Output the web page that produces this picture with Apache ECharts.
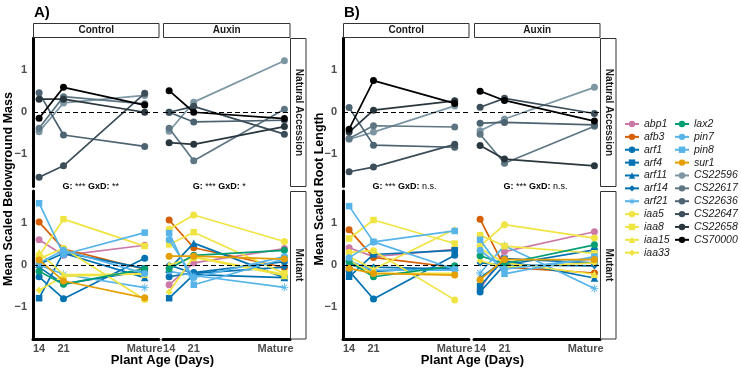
<!DOCTYPE html>
<html><head><meta charset="utf-8">
<script src="https://cdn.jsdelivr.net/npm/echarts@6/dist/echarts.min.js"></script>
<style>html,body{margin:0;padding:0;background:#fff}#c{width:741px;height:371px}</style>
</head><body><div id="c"></div><script>
// ---------- data ----------
const treatments = ['Control', 'Auxin'];
const matureDay = { Control: 44.3, Auxin: 46.8 };   // x position (days) of the mature measurement
const xTickValues = [14, 21, 44.3];
const xTickLabels = ['14', '21', 'Mature'];
const yTickValues = [-1, 0, 1];

const mutants = ['abp1','afb3','arf1','arf4','arf11','arf14','arf21','iaa5','iaa8','iaa15','iaa33','lax2','pin7','pin8','sur1'];
const accessions = ['CS22596','CS22617','CS22636','CS22647','CS22658','CS70000'];

// values at 14 d, 21 d, Mature
const massControlAccession = {
  CS22596:[-0.46,0.22,0.40], CS22617:[-0.38,0.37,0.20], CS22636:[0.46,-0.54,-0.81],
  CS22647:[-1.54,-1.27,0.45], CS22658:[0.31,0.31,0.00], CS70000:[-0.14,0.59,0.17]
};
const massAuxinAccession = {
  CS22596:[-0.45,0.24,1.22], CS22617:[-0.38,-1.15,0.07], CS22636:[0.00,-0.23,-0.19],
  CS22647:[0.00,0.14,-0.52], CS22658:[-0.72,-0.76,-0.34], CS70000:[0.51,0.00,-0.15]
};
const massControlMutant = {
  abp1:[0.60,0.23,0.47], afb3:[1.02,0.38,-0.10], arf1:[-0.28,-0.80,0.16], arf4:[-0.79,0.30,-0.08],
  arf11:[0.02,0.28,-0.30], arf14:[-0.05,-0.45,-0.14], arf21:[0.00,-0.22,-0.54], iaa5:[0.15,0.40,-0.82],
  iaa8:[0.22,1.09,0.45], iaa15:[0.30,-0.23,-0.22], iaa33:[-0.60,-0.27,-0.20], lax2:[-0.15,-0.46,-0.09],
  pin7:[0.05,0.35,-0.20], pin8:[1.47,0.25,0.77], sur1:[0.12,-0.38,-0.78]
};
const massAuxinMutant = {
  abp1:[-0.47,0.05,0.39], afb3:[1.07,0.41,-0.06], arf1:[-0.28,-0.18,0.08], arf4:[-0.79,-0.23,-0.30],
  arf11:[-0.10,0.52,-0.30], arf14:[0.00,-0.20,-0.05], arf21:[-0.15,-0.25,-0.53], iaa5:[0.85,1.19,0.56],
  iaa8:[0.49,0.78,-0.20], iaa15:[0.00,0.18,-0.25], iaa33:[-0.64,0.20,-0.22], lax2:[-0.09,0.23,0.35],
  pin7:[0.60,-0.30,0.20], pin8:[0.76,-0.47,0.15], sur1:[0.21,0.21,0.14]
};
const rootControlAccession = {
  CS22596:[-0.64,-0.47,0.15], CS22617:[-0.62,-0.32,-0.35], CS22636:[0.11,-0.78,-0.83],
  CS22647:[-1.41,-1.30,-0.76], CS22658:[-0.47,0.05,0.27], CS70000:[-0.40,0.75,0.21]
};
const rootAuxinAccession = {
  CS22596:[-0.44,-0.16,0.59], CS22617:[-0.52,-1.21,-0.33], CS22636:[-0.26,-0.24,-0.30],
  CS22647:[0.12,0.33,-0.03], CS22658:[-0.79,-1.11,-1.27], CS70000:[0.50,0.28,-0.21]
};
const rootControlMutant = {
  abp1:[0.41,0.20,0.37], afb3:[0.84,0.18,-0.06], arf1:[-0.14,-0.81,0.23], arf4:[-0.28,0.25,0.35],
  arf11:[0.02,-0.15,-0.05], arf14:[0.00,-0.05,-0.10], arf21:[0.10,-0.12,-0.12], iaa5:[0.30,0.34,-0.83],
  iaa8:[0.63,1.07,0.51], iaa15:[0.20,-0.10,0.85], iaa33:[0.10,-0.20,-0.20], lax2:[0.08,-0.28,-0.02],
  pin7:[0.17,0.55,-0.10], pin8:[1.40,0.55,0.81], sur1:[-0.08,-0.20,-0.24]
};
const rootAuxinMutant = {
  abp1:[-0.58,0.32,0.79], afb3:[1.09,-0.05,-0.19], arf1:[-0.64,0.00,0.36], arf4:[-0.50,0.15,0.05],
  arf11:[-0.30,0.10,-0.31], arf14:[0.05,0.00,-0.02], arf21:[-0.19,0.46,-0.56], iaa5:[0.45,0.96,0.64],
  iaa8:[0.71,0.45,0.28], iaa15:[0.40,0.05,-0.22], iaa33:[0.10,-0.05,0.05], lax2:[0.22,0.03,0.48],
  pin7:[0.35,-0.10,0.15], pin8:[0.60,-0.21,0.20], sur1:[-0.35,0.13,0.13]
};
const statLabels = { massControl:'**', massAuxin:'*', rootControl:'n.s.', rootAuxin:'n.s.' };

// ---------- styles ----------
const FONT = '"Liberation Sans", Arial, sans-serif';
const ASTER = 'path://M9 0h2v20h-2z M0 9h20v2h-20z M2.2 3.6L3.6 2.2L17.8 16.4L16.4 17.8z M16.4 2.2L17.8 3.6L3.6 17.8L2.2 16.4z';
const colors = {
  abp1:'#CC79A7', afb3:'#D55E00', arf1:'#0072B2', arf4:'#0072B2', arf11:'#0072B2', arf14:'#0072B2',
  arf21:'#56B4E9', iaa5:'#F0E442', iaa8:'#F0E442', iaa15:'#F0E442', iaa33:'#F0E442', lax2:'#009E73',
  pin7:'#56B4E9', pin8:'#56B4E9', sur1:'#E69F00',
  CS22596:'#7D96A4', CS22617:'#5E7684', CS22636:'#4C6371', CS22647:'#3C4E59', CS22658:'#29363E', CS70000:'#000000'
};
const shapes = {
  abp1:'circle', afb3:'circle', arf1:'circle', arf4:'rect', arf11:'triangle', arf14:'diamond', arf21:ASTER,
  iaa5:'circle', iaa8:'rect', iaa15:'triangle', iaa33:'diamond', lax2:'circle', pin7:'circle', pin8:'rect', sur1:'circle'
};
accessions.forEach(a => shapes[a] = 'circle');
const sizes = { circle:7, rect:6.5, triangle:7.5, diamond:7 };

const X0 = 12.25, X1 = 48.4, Y0 = -1.76, Y1 = 1.76;
const panels = [
  { key:'massControl', trt:'Control', row:0, left:33,  width:126, data:massControlAccession, names:accessions },
  { key:'massAuxin',   trt:'Auxin',   row:0, left:163, width:127, data:massAuxinAccession,   names:accessions },
  { key:'massControl', trt:'Control', row:1, left:33,  width:126, data:massControlMutant,    names:mutants },
  { key:'massAuxin',   trt:'Auxin',   row:1, left:163, width:127, data:massAuxinMutant,      names:mutants },
  { key:'rootControl', trt:'Control', row:0, left:343, width:126, data:rootControlAccession, names:accessions },
  { key:'rootAuxin',   trt:'Auxin',   row:0, left:474, width:126, data:rootAuxinAccession,   names:accessions },
  { key:'rootControl', trt:'Control', row:1, left:343, width:126, data:rootControlMutant,    names:mutants },
  { key:'rootAuxin',   trt:'Auxin',   row:1, left:474, width:126, data:rootAuxinMutant,      names:mutants }
];
const rowTop = [38, 191], rowH = [148.5, 148];

const grid = [], xAxis = [], yAxis = [], series = [];
panels.forEach((p, gi) => {
  grid.push({ left:p.left, top:rowTop[p.row], width:p.width, height:rowH[p.row] });
  const bottom = p.row === 1, isLeft = p.trt === 'Control';
  xAxis.push({
    type:'value', gridIndex:gi, min:X0, max:X1,
    axisLine:{ show:bottom, onZero:false, lineStyle:{ color:'#000', width:3 } },
    axisTick:{ show:false }, splitLine:{ show:false },
    axisLabel:{ show:bottom, customValues:xTickValues, margin:4,
      formatter:v => xTickLabels[xTickValues.indexOf(v)] ?? '',
      color:'#4d4d4d', fontWeight:'bold', fontSize:11, fontFamily:FONT }
  });
  yAxis.push({
    type:'value', gridIndex:gi, min:Y0, max:Y1,
    axisLine:{ show:isLeft, onZero:false, lineStyle:{ color:'#000', width:3 } },
    axisTick:{ show:false }, splitLine:{ show:false },
    axisLabel:{ show:isLeft, customValues:yTickValues, margin:6,
      formatter:v => String(v).replace('-', '\u2212'),
      color:'#4d4d4d', fontWeight:'bold', fontSize:11, fontFamily:FONT }
  });
  series.push({ type:'line', xAxisIndex:gi, yAxisIndex:gi, data:[], silent:true, z:1,
    markLine:{ silent:true, symbol:'none', label:{show:false}, animation:false,
      lineStyle:{ color:'#000', type:[5,3], width:1.1 }, data:[{ yAxis:0 }] } });
  const xs = [14, 21, matureDay[p.trt]];
  p.names.forEach((n, k) => {
    const sh = shapes[n];
    series.push({
      type:'line', name:n, xAxisIndex:gi, yAxisIndex:gi, z:2 + k * 0.01,
      data:p.data[n].map((v, i) => [xs[i], v]),
      symbol:sh, symbolSize: sh === ASTER ? 8 : sizes[sh], showSymbol:true,
      color:colors[n], itemStyle:{ color:colors[n], opacity:1 },
      lineStyle:{ width:1.7, color:colors[n] },
      emphasis:{ disabled:true }, animation:false
    });
  });
});

const legendBase = { orient:'vertical', itemWidth:14, itemHeight:8, itemGap:1.87, selectedMode:false, padding:0,
  textStyle:{ fontStyle:'italic', fontSize:10.5, lineHeight:11, color:'#1a1a1a', fontFamily:FONT } };
const legendCol1 = ['abp1','afb3','arf1','arf4','arf11','arf14','arf21','iaa5','iaa8','iaa15','iaa33'];
const legendCol2 = ['lax2','pin7','pin8','sur1'].concat(accessions);

// ---------- decorations ----------
const graphic = [];
function txt(x, y, text, font, opts = {}) {
  graphic.push(Object.assign({ type:'text', x, y, silent:true, z:100,
    style:{ text, font, fill:opts.fill || '#000', align:opts.align || 'center', verticalAlign:'middle',
      textAlign:opts.align || 'center', textVerticalAlign:'middle' } }, opts.extra || {}));
}
function rect(x, y, w, h) {
  graphic.push({ type:'rect', silent:true, z:90, shape:{ x, y, width:w, height:h },
    style:{ fill:'#fff', stroke:'#333', lineWidth:1 } });
}
[[33, 'A)', 'Mean Scaled Belowground Mass', 9, 290], [343, 'B)', 'Mean Scaled Root Length', 320, 600]].forEach(([L, tag, ytitle, yx, R]) => {
  txt(L + 1, 13, tag, 'bold 15px ' + FONT, { align:'left' });
  txt(yx, 189, ytitle, 'bold 12.5px ' + FONT, { extra:{ rotation: Math.PI / 2 } });
  const cw = L === 33 ? [[33.5,125.5],[163.5,126.5]] : [[343.5,125.5],[474.5,125.5]];
  cw.forEach(([x, w], i) => { rect(x, 23.5, w, 14); txt(x + w / 2, 30.5, treatments[i], 'bold 10px ' + FONT, { fill:'#1a1a1a' }); });
  rect(R + 0.5, 38.5, 15.5, 148); txt(R + 8.5, 112.5, 'Natural Accession', 'bold 10px ' + FONT, { fill:'#1a1a1a', extra:{ rotation:-Math.PI / 2 } });
  rect(R + 0.5, 191.5, 15.5, 147.5); txt(R + 8.5, 265, 'Mutant', 'bold 10px ' + FONT, { fill:'#1a1a1a', extra:{ rotation:-Math.PI / 2 } });
  txt((L + R) / 2 + 1, 360, 'Plant Age (Days)', 'bold 13px ' + FONT);
});

const chart = echarts.init(document.getElementById('c'));
chart.setOption({
  animation:false, backgroundColor:'#fff',
  grid, xAxis, yAxis, series,
  legend:[ Object.assign({ data:legendCol1, left:624, top:118.5 }, legendBase),
           Object.assign({ data:legendCol2, left:674, top:118.5 }, legendBase) ],
  graphic
});
const ann = [];
[0, 1, 4, 5].forEach(gi => {
  const p = panels[gi];
  const pt = chart.convertToPixel({ gridIndex:gi }, [21, 0]);
  ann.push({ type:'text', x:pt[0] - 1, y:187, silent:true, z:100,
    style:{ text:'{b|G:} *** {b|GxD:} ' + statLabels[p.key], font:'9px ' + FONT, fill:'#000',
      align:'left', verticalAlign:'middle', textAlign:'left', textVerticalAlign:'middle',
      rich:{ b:{ fontWeight:'bold', fontSize:9, fontFamily:FONT } } } });
});
chart.setOption({ graphic: graphic.concat(ann) });
</script></body></html>
